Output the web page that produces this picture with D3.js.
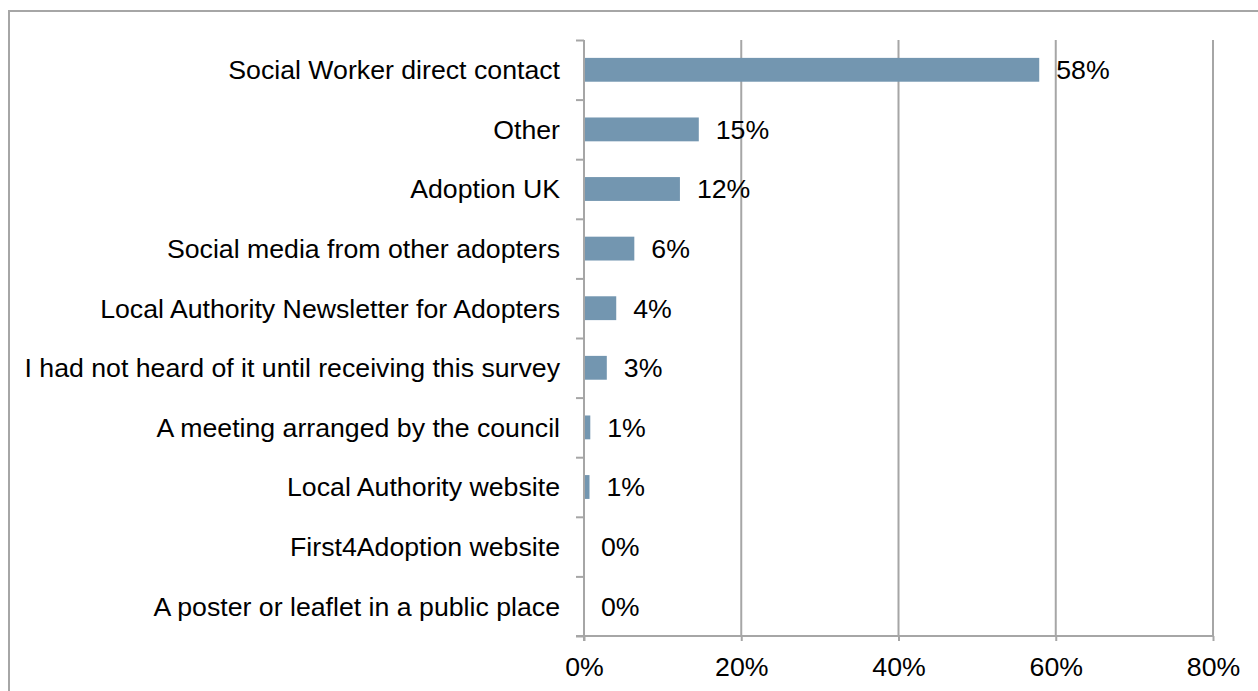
<!DOCTYPE html>
<html>
<head>
<meta charset="utf-8">
<script src="https://cdn.jsdelivr.net/npm/d3@7"></script>
<style>
  html, body { margin: 0; padding: 0; background: #fff; }
  svg { display: block; font-family: "Liberation Sans", Arial, sans-serif; }
</style>
</head>
<body>
<svg id="chart" width="1258" height="691"></svg>
<script>
// How respondents first heard about the service (share of responses)
const categories = [
  "Social Worker direct contact",
  "Other",
  "Adoption UK",
  "Social media from other adopters",
  "Local Authority Newsletter for Adopters",
  "I had not heard of it until receiving this survey",
  "A meeting arranged by the council",
  "Local Authority website",
  "First4Adoption website",
  "A poster or leaflet in a public place"
];
const shares = [0.579, 0.146, 0.122, 0.064, 0.041, 0.029, 0.008, 0.007, 0, 0];
const xTicks = [0, 0.2, 0.4, 0.6, 0.8];

const svg = d3.select("#chart");
const FONT = 26.7;
const gridColor = "#a6a6a6";
const barColor = "#7396b0";

// Outer chart frame (only top and left edges fall inside the view)
svg.append("rect")
  .attr("x", 9).attr("y", 11)
  .attr("width", 1400).attr("height", 1000)
  .attr("fill", "none")
  .attr("stroke", gridColor)
  .attr("stroke-width", 2);

const plotTop = 40, plotBottom = 636, plotLeft = 584, plotRight = 1213;

const x = d3.scaleLinear().domain([0, 0.8]).range([plotLeft, plotRight]);
const y = d3.scaleBand().domain(categories).range([plotTop, plotBottom])
  .paddingInner(0.6).paddingOuter(0.3);
const yEdges = d3.scaleLinear().domain([0, categories.length]).range([plotTop, plotBottom]);

// Vertical gridlines
svg.append("g").selectAll("line")
  .data(xTicks.filter(d => d > 0))
  .join("line")
  .attr("x1", d => x(d)).attr("x2", d => x(d))
  .attr("y1", plotTop).attr("y2", plotBottom)
  .attr("stroke", gridColor).attr("stroke-width", 2);

// Bars
svg.append("g").selectAll("rect")
  .data(shares)
  .join("rect")
  .attr("x", x(0) + 1)
  .attr("y", (d, i) => y(categories[i]))
  .attr("width", d => Math.max(0, x(d) - x(0) - 1))
  .attr("height", y.bandwidth())
  .attr("fill", barColor);

// Category axis: ticks sit on the band boundaries
const yAxis = svg.append("g")
  .attr("transform", `translate(${plotLeft},0)`)
  .call(d3.axisLeft(yEdges).ticks(categories.length).tickSize(8).tickFormat(""));
yAxis.select(".domain").remove();
yAxis.selectAll("line").attr("stroke", gridColor).attr("stroke-width", 2);
svg.append("line")
  .attr("x1", plotLeft).attr("x2", plotLeft)
  .attr("y1", plotTop).attr("y2", plotBottom + 5)
  .attr("stroke", gridColor).attr("stroke-width", 2);

// Category labels
svg.append("g").selectAll("text")
  .data(categories)
  .join("text")
  .attr("x", 560)
  .attr("y", d => y(d) + y.bandwidth() / 2)
  .attr("dy", "0.35em")
  .attr("text-anchor", "end")
  .attr("font-size", FONT)
  .attr("fill", "#000")
  .text(d => d);

// Value axis
const xAxis = svg.append("g")
  .attr("transform", `translate(0,${plotBottom})`)
  .call(d3.axisBottom(x).tickValues(xTicks).tickFormat(d3.format(".0%"))
    .tickSize(5).tickPadding(16).tickSizeOuter(0));
xAxis.select(".domain").remove();
xAxis.selectAll("line").attr("stroke", gridColor).attr("stroke-width", 2);
xAxis.selectAll("text")
  .attr("font-size", FONT)
  .attr("font-family", "Liberation Sans, Arial, sans-serif")
  .attr("fill", "#000");
svg.append("line")
  .attr("x1", plotLeft - 8).attr("x2", plotRight + 1)
  .attr("y1", plotBottom).attr("y2", plotBottom)
  .attr("stroke", gridColor).attr("stroke-width", 2);

// Value labels
svg.append("g").selectAll("text")
  .data(shares)
  .join("text")
  .attr("x", d => x(d) + 17)
  .attr("y", (d, i) => y(categories[i]) + y.bandwidth() / 2)
  .attr("dy", "0.35em")
  .attr("font-size", FONT)
  .attr("fill", "#000")
  .text(d => d3.format(".0%")(d));
</script>
</body>
</html>
